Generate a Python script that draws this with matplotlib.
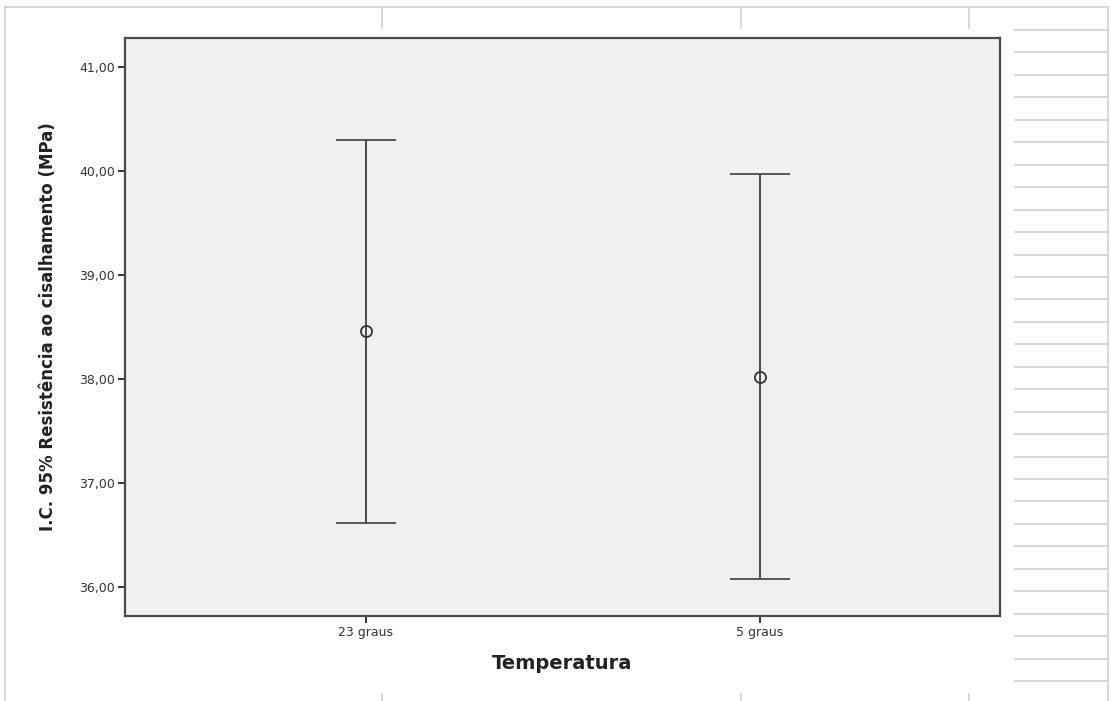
import matplotlib
matplotlib.use("Agg")
import matplotlib.pyplot as plt
from matplotlib.lines import Line2D

categories = ["23 graus", "5 graus"]
means = [38.46, 38.02]
upper = [40.30, 39.97]
lower = [36.615, 36.077]
yticks = [36, 37, 38, 39, 40, 41]
ytick_labels = ["36,00", "37,00", "38,00", "39,00", "40,00", "41,00"]

W, H = 1111, 701
fig = plt.figure(figsize=(W / 100, H / 100), dpi=100)
fig.patch.set_facecolor("white")

def px(x0, y0, x1, y1, **kw):
    fig.add_artist(Line2D([x0 / W, x1 / W], [1 - y0 / H, 1 - y1 / H],
                          transform=fig.transFigure, **kw))

deco = dict(color="#d4d4d4", lw=1.3)
px(5, 7, 1108, 7, **deco)
px(5, 7, 5, 701, **deco)
px(1108, 7, 1108, 701, **deco)
for k in range(30):
    y = 30 + k * 22.45
    px(1015, y, 1108, y, **deco)
for x in (382, 741, 969):
    px(x, 7, x, 28, **deco)
    px(x, 694, x, 701, **deco)

ax = fig.add_axes([125 / W, 1 - 616 / H, 875 / W, 578 / H])
ax.set_facecolor("#eff0f2")
for s in ax.spines.values():
    s.set_color("#4a4a4a")
    s.set_linewidth(1.6)

xs = list(range(len(categories)))
err_lo = [m - l for m, l in zip(means, lower)]
err_hi = [u - m for m, u in zip(means, upper)]
ax.errorbar(xs, means, yerr=[err_lo, err_hi], fmt="o", mfc="none", mec="#333333",
            mew=1.3, ms=8, ecolor="#4a4a4a", elinewidth=1.4, capsize=21.5, capthick=1.4)

ax.set_xlim(-0.6116, 1.609)
ax.set_ylim(35.721, 41.279)
ax.set_yticks(yticks)
ax.set_yticklabels(ytick_labels)
ax.set_xticks(xs)
ax.set_xticklabels(categories)
ax.tick_params(axis="both", direction="out", length=5, width=1.4, color="#333333",
               labelsize=9, labelcolor="#333333", pad=2)

ax.set_xlabel("Temperatura", fontsize=14, fontweight="bold", color="#222222",
              labelpad=11)
ax.set_ylabel("I.C. 95% Resistência ao cisalhamento (MPa)", fontsize=12,
              fontweight="bold", color="#222222", labelpad=16)

fig.savefig("out.png", dpi=100)
